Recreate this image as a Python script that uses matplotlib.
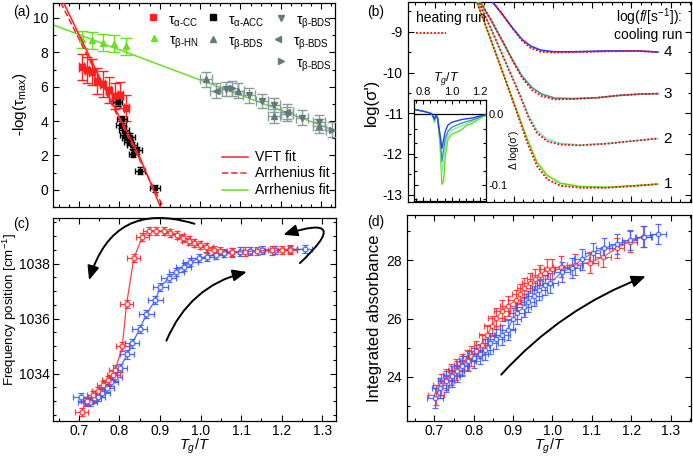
import matplotlib
matplotlib.use("Agg")
import matplotlib.pyplot as plt
from matplotlib.ticker import MultipleLocator, FormatStrFormatter
from matplotlib.patches import FancyArrowPatch

plt.rcParams['font.family'] = ['Liberation Sans', 'DejaVu Sans']
plt.rcParams['mathtext.fontset'] = 'custom'
plt.rcParams['mathtext.rm'] = 'Liberation Sans'
plt.rcParams['mathtext.it'] = 'Liberation Sans:italic'
plt.rcParams['mathtext.bf'] = 'Liberation Sans:bold'
plt.rcParams['axes.unicode_minus'] = False

# ---------------- data: panel (a) ----------------
cc_x = [0.707, 0.720, 0.732, 0.745, 0.759, 0.774, 0.789, 0.803, 0.817]
cc_y = [7.15, 6.95, 6.85, 6.35, 6.15, 5.80, 5.45, 5.50, 4.75]
acc_x = [0.796, 0.805, 0.807, 0.811, 0.815, 0.819, 0.823, 0.827, 0.831, 0.835, 0.844, 0.852, 0.889]
acc_y = [5.10, 3.80, 4.10, 3.50, 3.20, 3.00, 2.80, 3.10, 2.60, 2.10, 2.30, 1.10, 0.10]
hn_x = [0.708, 0.733, 0.760, 0.788, 0.817]
hn_y = [8.75, 8.70, 8.55, 8.50, 8.35]
bds_down_x = [1.065, 1.122, 1.153, 1.184, 1.216, 1.253, 1.294]
bds_down_y = [5.86, 5.49, 5.16, 4.92, 4.40, 4.20, 3.92]
bds_up_x = [1.014, 1.093, 1.184, 1.294]
bds_up_y = [6.43, 5.77, 4.30, 3.70]
bds_left_x = [1.040, 1.216]
bds_left_y = [5.77, 4.55]
bds_right_x = [1.080, 1.327]
bds_right_y = [5.90, 3.50]
vft_x = [0.662, 0.700, 0.750, 0.800, 0.850, 0.902]
vft_y = [10.9, 9.05, 6.60, 4.25, 1.95, -1.0]
arr_red_x = [0.655, 0.909]
arr_red_y = [10.9, -1.0]
arr_green_x = [0.636, 1.334]
arr_green_y = [9.60, 3.45]

# ---------------- data: panel (b) ----------------
b_x1 = [0.8045, 0.842, 0.876, 0.910, 0.935, 0.960, 0.986, 1.019, 1.070, 1.137, 1.205, 1.268]
b_cool1 = [-8.21, -9.19, -10.09, -10.98, -11.64, -12.21, -12.53, -12.72, -12.80, -12.82, -12.78, -12.74]
b_heat1 = [-8.21, -9.19, -10.09, -11.02, -11.72, -12.30, -12.62, -12.78, -12.83, -12.83, -12.79, -12.74]
b_x2 = [0.8087, 0.851, 0.884, 0.918, 0.939, 0.960, 0.986, 1.019, 1.070, 1.137, 1.205, 1.268]
b_cool2 = [-8.21, -9.106, -9.84, -10.58, -11.07, -11.43, -11.64, -11.74, -11.78, -11.74, -11.68, -11.62]
b_heat2 = [-8.21, -9.106, -9.84, -10.60, -11.12, -11.49, -11.69, -11.77, -11.79, -11.75, -11.68, -11.62]
b_x3 = [0.812, 0.842, 0.872, 0.897, 0.922, 0.947, 0.972, 1.006, 1.053, 1.112, 1.171, 1.222, 1.268]
b_cool3 = [-8.21, -8.70, -9.23, -9.68, -10.09, -10.37, -10.53, -10.63, -10.64, -10.62, -10.56, -10.53, -10.52]
b_heat3 = [-8.21, -8.70, -9.23, -9.70, -10.13, -10.43, -10.58, -10.66, -10.65, -10.62, -10.56, -10.53, -10.52]
b_x4 = [0.842, 0.872, 0.897, 0.922, 0.944, 0.969, 1.002, 1.053, 1.137, 1.222, 1.268]
b_cool4 = [-8.21, -8.576, -8.90, -9.19, -9.35, -9.45, -9.49, -9.49, -9.47, -9.47, -9.50]
b_heat4 = [-8.21, -8.576, -8.91, -9.22, -9.40, -9.49, -9.51, -9.50, -9.48, -9.47, -9.50]
b_labels = ['1', '2', '3', '4']
b_label_y = [-12.74, -11.64, -10.52, -9.50]

# inset
in_x = [0.741, 0.812, 0.860, 0.879, 0.889, 0.900, 0.919, 0.931, 0.943, 0.955, 0.974, 1.002,
        1.038, 1.074, 1.110, 1.145, 1.181, 1.240]
in_blue = [0.007, 0.004, 0.001, -0.006, -0.001, -0.004, -0.030, -0.048, -0.036, -0.024, -0.015,
           -0.011, -0.009, -0.007, -0.006, -0.005, -0.003, -0.0005]
in_teal = [0.007, 0.004, 0.001, -0.008, -0.002, -0.005, -0.035, -0.0665, -0.050, -0.035, -0.024,
           -0.018, -0.015, -0.012, -0.010, -0.008, -0.005, -0.001]
in_cyan = [0.007, 0.004, 0.001, -0.009, -0.002, -0.005, -0.040, -0.083, -0.065, -0.045, -0.030,
           -0.022, -0.019, -0.016, -0.013, -0.010, -0.006, -0.001]
in_green = [0.007, 0.004, 0.001, -0.011, -0.002, -0.004, -0.045, -0.099, -0.095, -0.060, -0.035,
            -0.028, -0.025, -0.021, -0.015, -0.013, -0.008, -0.001]

# ---------------- data: panel (c) ----------------
c_red_x = [0.7066, 0.7205, 0.735, 0.7476, 0.760, 0.772, 0.7846, 0.790, 0.8067, 0.8174, 0.8355,
           0.856, 0.874, 0.891, 0.909, 0.9258, 0.942, 0.957, 0.971, 0.985, 0.9997, 1.0145,
           1.0325, 1.049, 1.078, 1.110, 1.140, 1.175, 1.200, 1.221]
c_red_y = [1032.61, 1033.02, 1033.21, 1033.36, 1033.58, 1033.78, 1033.96, 1034.15, 1034.99,
           1036.53, 1038.21, 1038.96, 1039.18, 1039.20, 1039.18, 1039.12, 1039.03, 1038.93,
           1038.84, 1038.75, 1038.67, 1038.59, 1038.51, 1038.45, 1038.42, 1038.44, 1038.46,
           1038.48, 1038.50, 1038.50]
c_blue_x = [0.704, 0.7165, 0.727, 0.737, 0.747, 0.7576, 0.768, 0.778, 0.7885, 0.801, 0.819,
            0.831, 0.850, 0.8665, 0.8886, 0.901, 0.9213, 0.940, 0.958, 0.9746, 0.995, 1.016,
            1.037, 1.057, 1.078, 1.098, 1.123, 1.152, 1.184, 1.220, 1.257]
c_blue_y = [1033.16, 1032.98, 1032.96, 1033.10, 1033.16, 1033.29, 1033.47, 1033.71, 1033.89,
            1034.20, 1034.70, 1035.10, 1035.63, 1036.16, 1036.68, 1037.16, 1037.47, 1037.71,
            1037.89, 1038.05, 1038.20, 1038.25, 1038.32, 1038.38, 1038.41, 1038.44, 1038.46,
            1038.50, 1038.50, 1038.52, 1038.52]

# ---------------- data: panel (d) ----------------
d_red_x = [0.704, 0.717, 0.7295, 0.742, 0.755, 0.769, 0.782, 0.794, 0.807, 0.820, 0.834, 0.8466,
           0.8575, 0.872, 0.886, 0.908, 0.918, 0.929, 0.9418, 0.956, 0.969, 0.9857, 0.998, 1.021,
           1.058, 1.095, 1.129, 1.163, 1.196, 1.230]
d_red_y = [23.39, 23.74, 23.91, 24.08, 24.25, 24.42, 24.59, 24.71, 24.88, 25.11, 25.44, 25.75,
           26.01, 26.27, 26.43, 26.64, 26.84, 27.04, 27.21, 27.35, 27.50, 27.69, 27.69, 27.78,
           27.85, 27.92, 28.12, 28.41, 28.64, 28.81]
d_blue_x = [0.702, 0.714, 0.730, 0.744, 0.7565, 0.769, 0.786, 0.801, 0.8155, 0.828, 0.842, 0.8575,
            0.872, 0.886, 0.900, 0.910, 0.9266, 0.939, 0.9536, 0.967, 0.981, 0.994, 1.024, 1.049,
            1.074, 1.102, 1.131, 1.163, 1.196, 1.232, 1.268]
d_blue_y = [23.28, 23.62, 23.85, 24.02, 24.19, 24.37, 24.54, 24.65, 24.79, 24.94, 25.15, 25.30,
            25.44, 25.60, 26.00, 26.18, 26.39, 26.58, 26.78, 26.98, 27.15, 27.21, 27.60, 27.73,
            28.03, 28.24, 28.41, 28.55, 28.70, 28.81, 28.90]

W, H = 693, 457
fig = plt.figure(figsize=(W / 100, H / 100), dpi=100)


def box(l, t, r, b):
    return [l / W, 1 - b / H, (r - l) / W, (b - t) / H]


def style(ax, xmaj, xmin, ymaj, ymin, size=10):
    ax.xaxis.set_major_locator(MultipleLocator(xmaj))
    ax.xaxis.set_minor_locator(MultipleLocator(xmin))
    ax.yaxis.set_major_locator(MultipleLocator(ymaj))
    ax.yaxis.set_minor_locator(MultipleLocator(ymin))
    ax.tick_params(which='both', direction='in', top=True, right=True, labelsize=size)
    ax.tick_params(which='major', length=4, width=0.8)
    ax.tick_params(which='minor', length=2.5, width=0.8)
    for s in ax.spines.values():
        s.set_linewidth(0.9)


RED = '#ff2020'
GRAY = '#627a7c'
GREEN = '#66e022'

# ================= (a) =================
axa = fig.add_axes(box(53, 2.5, 335, 207))
axa.set_xlim(0.636, 1.334)
axa.set_ylim(-1.0, 10.9)
style(axa, 0.1, 0.025, 2, 1)
axa.tick_params(labelbottom=False)
axa.set_ylabel(r'-log(τ$_{\mathregular{max}}$)', fontsize=11, labelpad=3)

axa.plot(arr_green_x, arr_green_y, color=GREEN, lw=1.1, zorder=2)
axa.plot(vft_x, vft_y, color=RED, lw=1.1, zorder=4)
axa.plot(arr_red_x, arr_red_y, color=RED, lw=1.1, ls=(0, (4, 2)), zorder=4)

axa.errorbar(hn_x, hn_y, yerr=0.5, fmt='^', ms=5, color=GREEN, ecolor=GREEN, elinewidth=1,
             capsize=4.5, zorder=3)
axa.errorbar(cc_x, cc_y, yerr=0.75, xerr=0.006, fmt='s', ms=4.5, color=RED, ecolor=RED,
             elinewidth=1, capsize=3.5, zorder=3)
axa.errorbar(acc_x, acc_y, yerr=0.2, xerr=0.012, fmt='s', ms=3.5, color='black', ecolor='black',
             elinewidth=1, capsize=2, zorder=3)
for xs, ys, mk in [(bds_down_x, bds_down_y, 'v'), (bds_up_x, bds_up_y, '^'),
                   (bds_left_x, bds_left_y, '<'), (bds_right_x, bds_right_y, '>')]:
    axa.errorbar(xs, ys, yerr=0.42, xerr=0.015, fmt=mk, ms=4.5, color=GRAY, ecolor='#8a9c9e',
                 elinewidth=1, capsize=3.5, zorder=3)


def ax_frac(px, py, l=53, t=2.5, w=282, h=204.5):
    return (px - l) / w, 1 - (py - t) / h


leg_items = [
    (152.7, 16.7, 's', RED, 'τ$_{\\mathregular{α‐CC}}$'),
    (213.3, 17.3, 's', 'black', 'τ$_{\\mathregular{α‐ACC}}$'),
    (281.0, 18.3, 'v', GRAY, 'τ$_{\\mathregular{β‐BDS}}$'),
    (154.0, 38.3, '^', GREEN, 'τ$_{\\mathregular{β‐HN}}$'),
    (213.3, 39.0, '^', GRAY, 'τ$_{\\mathregular{β‐BDS}}$'),
    (278.3, 39.3, '<', GRAY, 'τ$_{\\mathregular{β‐BDS}}$'),
    (281.0, 61.0, '>', GRAY, 'τ$_{\\mathregular{β‐BDS}}$'),
]
for px, py, mk, col, lab in leg_items:
    fx, fy = ax_frac(px, py)
    axa.plot([fx], [fy], marker=mk, ms=4.5, color=col, ls='none', transform=axa.transAxes)
    tx, ty = ax_frac(px + 15, py + 5)
    axa.text(tx, ty, lab, transform=axa.transAxes, fontsize=10, va='center', ha='left')

for py, col, ls, lab in [(156.7, RED, '-', 'VFT fit'), (173.3, RED, (0, (4, 2)), 'Arrhenius fit'),
                         (190.0, GREEN, '-', 'Arrhenius fit')]:
    x0, y0 = ax_frac(222, py)
    x1, _ = ax_frac(248, py)
    axa.plot([x0, x1], [y0, y0], color=col, ls=ls, lw=1.1, transform=axa.transAxes)
    tx, _ = ax_frac(255, py)
    axa.text(tx, y0, lab, transform=axa.transAxes, fontsize=10, va='center', ha='left')

# ================= (b) =================
axb = fig.add_axes(box(407.7, 2.5, 691, 202))
axb.set_xlim(0.6305, 1.352)
axb.set_ylim(-13.18, -8.28)
style(axb, 0.1, 0.025, 1, 0.5)
axb.tick_params(labelbottom=False)
axb.set_ylabel("log(σ')", fontsize=12, labelpad=3)

cool_cols = ['#66dd11', '#7de8d0', '#3f9a88', '#2040ff']
xs_b = [b_x1, b_x2, b_x3, b_x4]
cools = [b_cool1, b_cool2, b_cool3, b_cool4]
heats = [b_heat1, b_heat2, b_heat3, b_heat4]
for xs, cy, hy, col in zip(xs_b, cools, heats, cool_cols):
    axb.plot(xs, cy, color=col, lw=1.2, zorder=3)
    axb.plot(xs, hy, color='red', lw=1.3, ls=(0, (1, 1)), zorder=4)
for lab, ly in zip(b_labels, b_label_y):
    axb.text(1.293, ly, lab, fontsize=11, ha='center', va='center')


def bfrac(px, py):
    return (px - 407.7) / 283.3, 1 - (py - 2.5) / 199.5


fx, fy = bfrac(416, 18)
axb.text(fx, fy, 'heating run', transform=axb.transAxes, fontsize=10, va='center', ha='left')
x0, y0 = bfrac(416, 33.3)
x1, _ = bfrac(446, 33.3)
axb.plot([x0, x1], [y0, y0], color='red', lw=1.3, ls=(0, (1, 1)), transform=axb.transAxes)
fx, fy = bfrac(682, 17)
axb.text(fx, fy, 'log($f$/[s$^{-1}$]):', transform=axb.transAxes, fontsize=10, va='center',
         ha='right')
fx, fy = bfrac(682, 35)
axb.text(fx, fy, 'cooling run', transform=axb.transAxes, fontsize=10, va='center', ha='right')

# inset
axi = fig.add_axes(box(414.3, 100, 486, 200.5))
axi.set_xlim(0.736, 1.243)
axi.set_ylim(-0.122, 0.0205)
style(axi, 0.2, 0.05, 0.1, 0.02, size=8)
axi.tick_params(labeltop=True, labelbottom=False, labelright=True, labelleft=False, pad=2)
axi.tick_params(which='major', length=3)
axi.tick_params(which='minor', length=2)
axi.yaxis.set_major_formatter(FormatStrFormatter('%.1f'))
axi.xaxis.set_major_formatter(FormatStrFormatter('%.1f'))
axi.axhline(0, color='black', lw=0.9)
for ys, col in [(in_green, '#66dd11'), (in_cyan, '#7de8d0'), (in_teal, '#3f9a88'),
                (in_blue, '#2040ff')]:
    axi.plot(in_x, ys, color=col, lw=1.0)
axi.xaxis.set_label_position('top')
axi.set_xlabel(r'$T_g/T$', fontsize=9)
axi.xaxis.set_label_coords(0.45, 1.13)
axi.xaxis.label.set_va('bottom')
axi.yaxis.set_label_position('right')
axi.set_ylabel("Δ log(σ')", fontsize=7.5, labelpad=1)

# ================= (c) =================
axc = fig.add_axes(box(53, 218, 336, 421))
axc.set_xlim(0.636, 1.334)
axc.set_ylim(1032.28, 1039.66)
style(axc, 0.1, 0.05, 2, 0.5)
axc.tick_params(axis='x', pad=2.5)
axc.tick_params(axis='y', pad=2)
axc.set_xlabel(r'$T_g/T$', fontsize=10.5)
axc.xaxis.set_label_coords(0.5, -(437 - 421) / 203)
axc.set_ylabel('Frequency position [cm$^{-1}$]', fontsize=9.5)
axc.yaxis.set_label_coords(-(53 - 19.5) / 283, 0.55)
REDc = '#ff2a2a'
BLUEc = '#3858ff'
axc.errorbar(c_blue_x, c_blue_y, xerr=0.018, yerr=0.15, fmt='-o', ms=3.5, mfc='white',
             mec=BLUEc, color=BLUEc, ecolor=BLUEc, lw=0.9, elinewidth=0.9, capsize=2.5,
             mew=0.9, alpha=0.9, zorder=3)
axc.errorbar(c_red_x, c_red_y, xerr=0.016, yerr=0.15, fmt='-o', ms=3.5, mfc='white',
             mec=REDc, color=REDc, ecolor=REDc, lw=0.9, elinewidth=0.9, capsize=2.5,
             mew=0.9, alpha=0.9, zorder=3)

arrow_kw = dict(arrowstyle='-|>,head_length=0.6,head_width=0.25', mutation_scale=14, lw=1.4,
                color='black', shrinkA=0, shrinkB=0, clip_on=False, zorder=5)
axc.add_patch(FancyArrowPatch((0.985, 1039.45), (0.725, 1037.4),
                              connectionstyle='arc3,rad=0.5', **arrow_kw))
axc.add_patch(FancyArrowPatch((1.245, 1038.02), (1.204, 1039.05),
                              connectionstyle='arc3,rad=2.2', **arrow_kw))
axc.add_patch(FancyArrowPatch((0.9157, 1035.2), (1.114, 1037.7),
                              connectionstyle='arc3,rad=-0.25', **arrow_kw))

# ================= (d) =================
axd = fig.add_axes(box(407, 215, 691, 421))
axd.set_xlim(0.6305, 1.352)
axd.set_ylim(22.49, 29.55)
style(axd, 0.1, 0.05, 2, 1)
axd.tick_params(axis='x', pad=2.5)
axd.set_xlabel(r'$T_g/T$', fontsize=10.5)
axd.xaxis.set_label_coords(0.5, -(437 - 421) / 206)
axd.set_ylabel('Integrated absorbance', fontsize=12, labelpad=3)
axd.errorbar(d_red_x, d_red_y, xerr=0.02, yerr=0.35, fmt='-o', ms=3.2, mfc='white',
             mec=REDc, color=REDc, ecolor=REDc, lw=0.8, elinewidth=0.9, capsize=2.5,
             mew=0.9, alpha=0.85, zorder=3)
axd.errorbar(d_blue_x, d_blue_y, xerr=0.02, yerr=0.35, fmt='-o', ms=3.2, mfc='white',
             mec=BLUEc, color=BLUEc, ecolor=BLUEc, lw=0.8, elinewidth=0.9, capsize=2.5,
             mew=0.9, alpha=0.85, zorder=3)
axd.add_patch(FancyArrowPatch((0.87, 24.08), (1.237, 27.45),
                              connectionstyle='arc3,rad=-0.12', **arrow_kw))

# panel labels
for px, py, lab in [(13, 12, '(a)'), (13, 224, '(c)'), (367, 12, '(b)'), (367, 222, '(d)')]:
    fig.text(px / W, 1 - py / H, lab, fontsize=10, va='center', ha='left')

fig.savefig('out.png', dpi=100)
